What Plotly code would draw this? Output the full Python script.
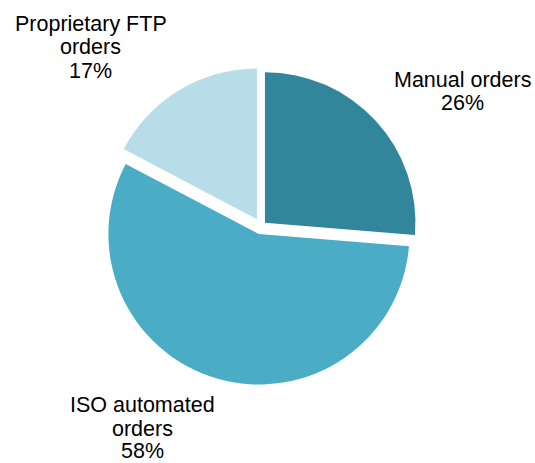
import plotly.graph_objects as go

# Data
categories = ["Manual orders", "ISO automated orders", "Proprietary FTP orders"]
shares = [26.3, 56.4, 17.3]          # slice sizes as drawn
pct_labels = ["26%", "58%", "17%"]   # printed data labels
label_lines = [["Manual orders"], ["ISO automated", "orders"], ["Proprietary FTP", "orders"]]
colors = ["#31869B", "#4BACC6", "#B7DEE8"]
pulls = [0.034, 0.054, 0.055]

W, H = 535, 463
cx, cy, half = 261.2, 226.2, 158.8

fig = go.Figure(go.Pie(
    labels=categories,
    values=shares,
    sort=False,
    direction="clockwise",
    rotation=0,
    pull=pulls,
    marker=dict(colors=colors, line=dict(width=0)),
    textinfo="none",
    hoverinfo="label+percent",
    domain=dict(x=[(cx - half) / W, (cx + half) / W],
                y=[1 - (cy + half) / H, 1 - (cy - half) / H]),
))

# label placement (pixel centres of each text block's lines)
label_pos = [
    (462, [80.0, 103.0]),
    (142, [405.0, 428.8, 451.3]),
    (90.5, [24.0, 46.6, 71.3]),
]
fs = 21.5
for (x, ys), lines, pct in zip(label_pos, label_lines, pct_labels):
    texts = lines + [pct]
    for t, y in zip(texts, ys):
        fig.add_annotation(
            x=x / W, y=1 - y / H, xref="paper", yref="paper",
            text=t, showarrow=False, xanchor="center", yanchor="middle",
            borderpad=0,
            font=dict(family="Liberation Sans, Arial, sans-serif", size=fs, color="#000000"),
        )

fig.update_layout(
    width=W, height=H, autosize=False,
    margin=dict(l=0, r=0, t=0, b=0),
    showlegend=False,
    paper_bgcolor="white", plot_bgcolor="white",
)

fig.write_html("out.html",
               config={"displayModeBar": False},
               post_script="document.body.style.margin='0';document.body.style.padding='0';")
